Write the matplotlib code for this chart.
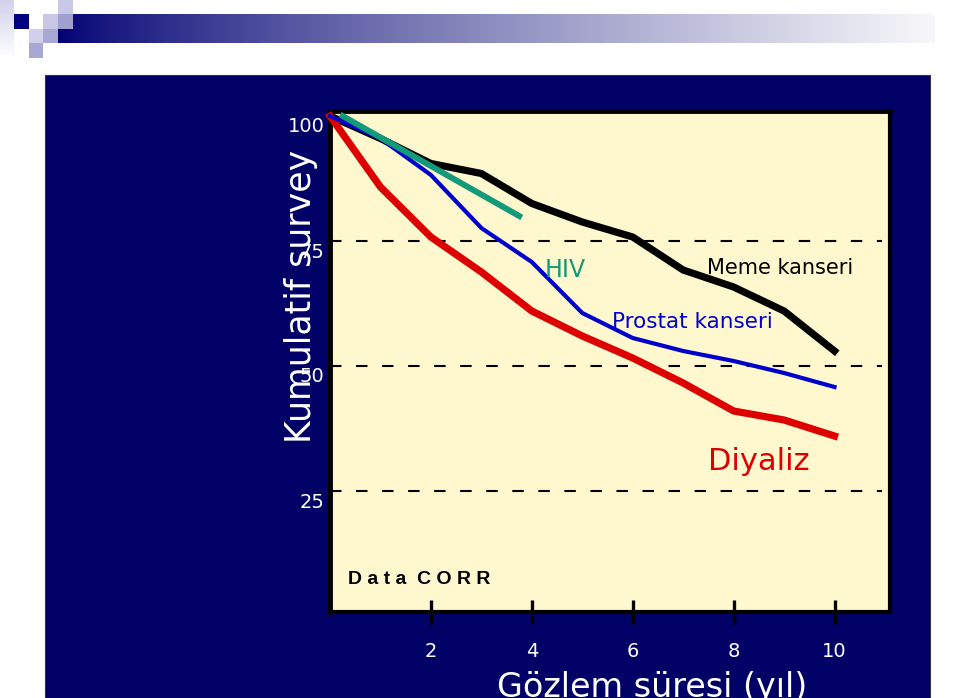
import numpy as np
import matplotlib
matplotlib.use("Agg")
import matplotlib.pyplot as plt
from matplotlib.patches import Rectangle
import matplotlib.transforms as mtransforms

# ---- data ----
years = [0, 1, 2, 3, 4, 5, 6, 7, 8, 9, 10]
meme_kanseri = [100, 95.5, 90.5, 88.5, 82.5, 78.8, 75.8, 69.2, 65.8, 61, 53]
prostat_kanseri = [100, 95.5, 88.2, 77.6, 70.8, 60.6, 55.6, 53, 51, 48.6, 45.8]
diyaliz = [100, 85.8, 75.8, 68.8, 61, 56, 51.6, 46.6, 41, 39.2, 36]
hiv_years = [0.25, 3.75]
hiv = [100, 80]
y_ticks = [25, 50, 75, 100]
y_tick_labels = ["25", "50", "75", "100"]
x_ticks = [2, 4, 6, 8, 10]
x_tick_labels = ["2", "4", "6", "8", "10"]
ref_lines = [25, 50, 75]

W, H = 960, 698
NAVY = "#000066"
CREAM = "#FFF8CF"

fig = plt.figure(figsize=(W / 100, H / 100), dpi=100)
fig.patch.set_facecolor("white")

def px_rect(x0, y0, x1, y1, **kw):
    """rectangle in figure pixel coords (y from top)"""
    r = Rectangle((x0 / W, 1 - y1 / H), (x1 - x0) / W, (y1 - y0) / H,
                  transform=fig.transFigure, **kw)
    fig.add_artist(r)
    return r

# decorative header
gax = fig.add_axes([58 / W, 1 - 43 / H, (935 - 58) / W, 29 / H])
grad = np.linspace(0, 1, 512)
c0 = np.array([0.0, 0.0, 0.45])
c1 = np.array([0.97, 0.97, 0.98])
t = grad ** 0.8
img = (c0[None, :] * (1 - t[:, None]) + c1[None, :] * t[:, None])[None, :, :]
gax.imshow(img, aspect="auto", extent=[0, 1, 0, 1])
gax.axis("off")

lcol = fig.add_axes([0, 1 - 58 / H, 14 / W, 58 / H])
lg = np.linspace(0, 1, 64)
cl = np.array([0.82, 0.82, 0.92])
lcol.imshow((cl[None, :] * (1 - lg[:, None]) + np.array([1, 1, 1])[None, :] * lg[:, None])[:, None, :],
            aspect="auto", extent=[0, 1, 0, 1])
lcol.axis("off")

px_rect(14, 14, 29, 29, facecolor="#000080", edgecolor="none", zorder=5)
px_rect(43, 14, 58, 29, facecolor="#C8C8E6", edgecolor="none", zorder=5)
px_rect(58, 0, 73, 14, facecolor="#C8C8E6", edgecolor="none", zorder=5)
px_rect(58, 14, 73, 29, facecolor="#A0A0D0", edgecolor="none", zorder=5)
px_rect(29, 29, 43, 43, facecolor="#D0D0EA", edgecolor="none", zorder=5)
px_rect(43, 29, 58, 43, facecolor="#A8A8D4", edgecolor="none", zorder=5)
px_rect(29, 43, 43, 58, facecolor="#A8A8D4", edgecolor="none", zorder=5)

# navy panel
px_rect(45, 75, 930, 698, facecolor=NAVY, edgecolor="#333333", linewidth=0.8, zorder=0)

# main axes
ax = fig.add_axes([330 / W, 1 - 612 / H, (890 - 330) / W, (612 - 111) / H])
ax.set_facecolor(CREAM)
ax.set_xlim(0, 11.1)
ax.set_ylim(0.8, 101)

for v in ref_lines:
    ax.axhline(v, xmin=0, xmax=0.985, color="black", linestyle=(0, (5.5, 7)), linewidth=1.5, zorder=1)

ax.plot(years, diyaliz, color="#DD0000", linewidth=5.2, solid_joinstyle="round", zorder=3, clip_on=False)
ax.plot(years, meme_kanseri, color="black", linewidth=5.2, solid_joinstyle="round", zorder=2, clip_on=False)
ax.plot(years, prostat_kanseri, color="#0000CC", linewidth=3.0, solid_joinstyle="round", zorder=3, clip_on=False)
ax.plot(hiv_years, hiv, color="#139A7A", linewidth=4.3, zorder=4, clip_on=False)

for name, s in ax.spines.items():
    s.set_color("black")
    s.set_linewidth(3.5 if name in ("left", "top") else 3.0)

ax.set_xticks(x_ticks)
ax.set_xticklabels(x_tick_labels, color="white", fontsize=14, family="DejaVu Sans")
ax.tick_params(axis="x", direction="inout", length=17, width=2.4, color="black", pad=13)
ax.set_yticks(y_ticks)
ax.set_yticklabels(y_tick_labels, color="white", fontsize=14, family="DejaVu Sans")
ax.tick_params(axis="y", length=0, pad=4)
off = mtransforms.ScaledTranslation(0, -9 / 100, fig.dpi_scale_trans)
for lab in ax.get_yticklabels():
    lab.set_transform(lab.get_transform() + off)

ax.set_ylabel("Kumulatif survey", color="white", fontsize=25)
ax.yaxis.set_label_coords(-0.022, 0.63)
ax.set_xlabel("Gözlem süresi (yıl)", color="white", fontsize=24)
ax.xaxis.set_label_coords(0.575, -0.118)

ax.text(4.26, 69.2, "HIV", color="#139A7A", fontsize=17, va="center", ha="left")
ax.text(7.47, 69.6, "Meme kanseri", color="black", fontsize=15, va="center", ha="left")
ax.text(5.58, 58.8, "Prostat kanseri", color="#0000CC", fontsize=15.5, va="center", ha="left")
ax.text(7.49, 30.8, "Diyaliz", color="#DD0000", fontsize=22, va="center", ha="left")
ax.text(0.36, 7.2, "D a t a  C O R R", color="black", fontsize=14, fontweight="bold",
        family="Liberation Sans", va="center", ha="left")

fig.savefig("out.png", dpi=100)
